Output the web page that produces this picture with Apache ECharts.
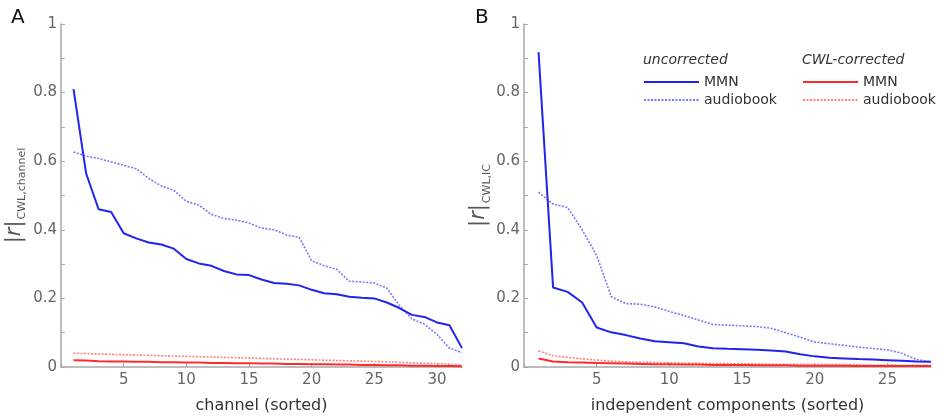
<!DOCTYPE html>
<html><head><meta charset="utf-8">
<script src="https://cdn.jsdelivr.net/npm/echarts@6/dist/echarts.min.js"></script>
<style>html,body{margin:0;padding:0;background:#fff}#c{width:943px;height:419px}</style>
</head><body><div id="c"></div>
<script>
// Panel A: channels (sorted), 1..32
const channelsA = [1,2,3,4,5,6,7,8,9,10,11,12,13,14,15,16,17,18,19,20,21,22,23,24,25,26,27,28,29,30,31,32];
const aMMNuncorr = [0.81,0.565,0.46,0.452,0.39,0.375,0.363,0.357,0.345,0.315,0.302,0.295,0.28,0.27,0.268,0.255,0.245,0.243,0.238,0.225,0.215,0.212,0.205,0.202,0.2,0.188,0.172,0.152,0.146,0.13,0.122,0.055];
const aAudioUncorr = [0.627,0.615,0.608,0.598,0.588,0.578,0.55,0.528,0.515,0.483,0.472,0.445,0.433,0.428,0.42,0.405,0.4,0.385,0.378,0.31,0.295,0.285,0.25,0.248,0.245,0.23,0.18,0.14,0.125,0.095,0.055,0.042];
const aMMNcorr = [0.02,0.019,0.017,0.016,0.016,0.015,0.015,0.014,0.014,0.013,0.013,0.012,0.012,0.011,0.011,0.010,0.010,0.009,0.009,0.008,0.008,0.007,0.007,0.006,0.006,0.005,0.005,0.004,0.004,0.003,0.003,0.002];
const aAudioCorr = [0.04,0.039,0.038,0.037,0.036,0.035,0.034,0.033,0.032,0.031,0.03,0.029,0.028,0.027,0.026,0.025,0.024,0.023,0.022,0.021,0.02,0.019,0.018,0.017,0.016,0.015,0.014,0.012,0.011,0.01,0.008,0.006];
// Panel B: independent components (sorted), 1..28
const compsB = [1,2,3,4,5,6,7,8,9,10,11,12,13,14,15,16,17,18,19,20,21,22,23,24,25,26,27,28];
const bMMNuncorr = [0.918,0.232,0.219,0.188,0.115,0.101,0.093,0.083,0.075,0.072,0.069,0.06,0.055,0.053,0.052,0.05,0.048,0.045,0.037,0.031,0.027,0.025,0.023,0.022,0.02,0.018,0.016,0.015];
const bAudioUncorr = [0.51,0.475,0.465,0.40,0.325,0.205,0.185,0.183,0.175,0.162,0.15,0.137,0.124,0.122,0.12,0.118,0.113,0.1,0.087,0.073,0.068,0.063,0.058,0.054,0.05,0.04,0.022,0.015];
const bMMNcorr = [0.025,0.016,0.014,0.013,0.012,0.011,0.01,0.009,0.008,0.008,0.007,0.007,0.006,0.006,0.006,0.005,0.005,0.005,0.004,0.004,0.004,0.004,0.003,0.003,0.003,0.003,0.003,0.003];
const bAudioCorr = [0.047,0.033,0.028,0.024,0.02,0.017,0.015,0.014,0.013,0.012,0.011,0.011,0.01,0.01,0.009,0.009,0.008,0.008,0.008,0.007,0.007,0.007,0.006,0.006,0.006,0.005,0.005,0.005];
const yTicks = [0,0.2,0.4,0.6,0.8,1];

const FONT = 'DejaVu Sans';
const BLUE = '#2323ee', BLUE_D = '#6060ff', RED = '#ff2b2b', RED_D = '#ff6a6a';
const zip = (xs, ys) => xs.map((x,i)=>[x, ys[i]]);

function xAxis(idx, max, name){
  return {gridIndex: idx, type:'value', min:0, max:max, interval:5,
    name:name, nameLocation:'middle', nameGap:31,
    nameTextStyle:{fontFamily:FONT, fontSize:16, color:'#333'},
    axisLine:{lineStyle:{color:'#a8a8a8', width:1.5}},
    axisTick:{inside:true, length:4, lineStyle:{color:'#a8a8a8'}},
    axisLabel:{fontFamily:FONT, fontSize:15, color:'#666', margin:6, showMaxLabel:false, formatter:v=> (v===0||v===max)?'':String(v)},
    splitLine:{show:false}};
}
function yAxis(idx, sub, gap){
  return {gridIndex: idx, type:'value', min:0, max:1, interval:0.2,
    name:'{bar||}{ri|r}{bar||}{sub|'+sub+'}', nameLocation:'middle', nameRotate:90, nameGap:gap,
    nameTextStyle:{rich:{
      bar:{fontFamily:FONT, fontSize:21, color:'#555'},
      ri:{fontFamily:FONT, fontSize:21, fontStyle:'italic', color:'#555'},
      sub:{fontFamily:FONT, fontSize:11, color:'#555', verticalAlign:'bottom', padding:[0,0,-3,1]}
    }},
    axisLine:{show:true, lineStyle:{color:'#a8a8a8', width:1.5}},
    axisTick:{show:true, inside:true, length:4, lineStyle:{color:'#a8a8a8'}},
    minorTick:{show:true, splitNumber:2, length:4, lineStyle:{color:'#a8a8a8'}},
    axisLabel:{fontFamily:FONT, fontSize:15, color:'#666', margin:4},
    splitLine:{show:false}};
}
function line(name, xi, data, color, dotted, width){
  return {name:name, type:'line', xAxisIndex:xi, yAxisIndex:xi, data:data,
    symbol:'none', showSymbol:false, silent:true, animation:false,
    lineStyle:{color:color, width:width, type: dotted ? [2,1.5] : 'solid', opacity: dotted?0.85:1},
    itemStyle:{color:color}};
}
function legend(names, prefix, left){
  return {data:names, orient:'vertical', left:left, top:70, itemWidth:55, itemHeight:14, itemGap:4,
    formatter:n=>n.replace(prefix,''), textStyle:{fontFamily:FONT, fontSize:14, color:'#333'},
    selectedMode:false, itemStyle:{opacity:0, borderWidth:0}};
}

const chart = echarts.init(document.getElementById('c'), null, {renderer:'canvas'});
chart.setOption({
  animation:false,
  backgroundColor:'#fff',
  grid:[{left:61, top:24, width:401, bottom:51}, {left:524, top:24, width:407, bottom:51}],
  title:[
    {text:'A', left:6, top:3, textStyle:{fontFamily:FONT, fontSize:20, fontWeight:'normal', color:'#111'}},
    {text:'B', left:470, top:3, textStyle:{fontFamily:FONT, fontSize:20, fontWeight:'normal', color:'#111'}},
    {text:'uncorrected', left:638, top:48, textStyle:{fontFamily:FONT, fontSize:14, fontStyle:'italic', fontWeight:'normal', color:'#333'}},
    {text:'CWL-corrected', left:797, top:48, textStyle:{fontFamily:FONT, fontSize:14, fontStyle:'italic', fontWeight:'normal', color:'#333'}}
  ],
  legend:[
    legend(['uncorrected MMN','uncorrected audiobook'], 'uncorrected ', 638),
    legend(['corrected MMN','corrected audiobook'], 'corrected ', 797)
  ],
  xAxis:[xAxis(0, 32, 'channel (sorted)'), xAxis(1, 28, 'independent components (sorted)')],
  yAxis:[yAxis(0, 'CWL,channel', 36), yAxis(1, 'CWL,IC', 32)],
  series:[
    line('A corrected audiobook', 0, zip(channelsA, aAudioCorr), RED_D, true, 1.6),
    line('A corrected MMN', 0, zip(channelsA, aMMNcorr), RED, false, 2),
    line('A uncorrected audiobook', 0, zip(channelsA, aAudioUncorr), BLUE_D, true, 1.6),
    line('A uncorrected MMN', 0, zip(channelsA, aMMNuncorr), BLUE, false, 2),
    line('corrected audiobook', 1, zip(compsB, bAudioCorr), RED_D, true, 1.6),
    line('corrected MMN', 1, zip(compsB, bMMNcorr), RED, false, 2),
    line('uncorrected audiobook', 1, zip(compsB, bAudioUncorr), BLUE_D, true, 1.6),
    line('uncorrected MMN', 1, zip(compsB, bMMNuncorr), BLUE, false, 2)
  ]
});
</script></body></html>
